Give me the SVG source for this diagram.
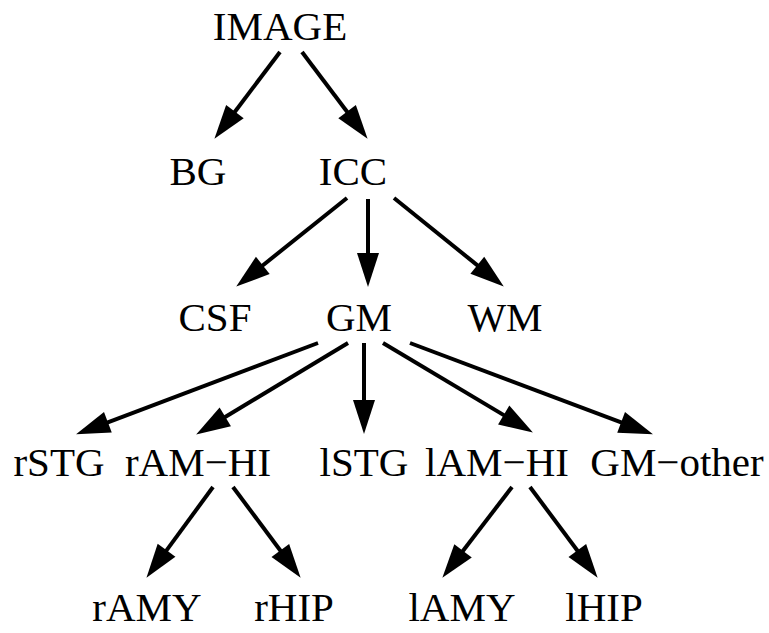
<svg xmlns="http://www.w3.org/2000/svg" width="769" height="633" viewBox="0 0 769 633">
<defs>
<marker id="ah" markerUnits="userSpaceOnUse" orient="auto" markerWidth="40" markerHeight="30" refX="0" refY="0" overflow="visible">
<path d="M-5,-11 L29,0 L-5,11 z" fill="#000"/>
</marker>
</defs>
<rect width="769" height="633" fill="#fff"/>
<g id="connectors" stroke="#000" stroke-width="4" fill="none" marker-end="url(#ah)">
<line x1="280" y1="52" x2="231.9" y2="115.7" marker-end="url(#ah)"/>
<line x1="302" y1="52" x2="350.1" y2="115.7" marker-end="url(#ah)"/>
<line x1="347" y1="198" x2="258.9" y2="268.5" marker-end="url(#ah)"/>
<line x1="368" y1="199" x2="368" y2="258" marker-end="url(#ah)"/>
<line x1="394" y1="198" x2="481.2" y2="268.4" marker-end="url(#ah)"/>
<line x1="318" y1="343" x2="103.2" y2="424.1" marker-end="url(#ah)"/>
<line x1="348" y1="343" x2="221" y2="419.5" marker-end="url(#ah)"/>
<line x1="364" y1="343" x2="364" y2="405" marker-end="url(#ah)"/>
<line x1="383" y1="343" x2="508" y2="417.6" marker-end="url(#ah)"/>
<line x1="410" y1="343" x2="625.8" y2="424.1" marker-end="url(#ah)"/>
<line x1="213" y1="487" x2="163.6" y2="554.4" marker-end="url(#ah)"/>
<line x1="233" y1="487" x2="283.3" y2="554.5" marker-end="url(#ah)"/>
<line x1="512" y1="487" x2="460" y2="554.8" marker-end="url(#ah)"/>
<line x1="530" y1="487" x2="580.3" y2="554.5" marker-end="url(#ah)"/>
</g>
<g id="IMAGE"><text x="280" y="40" font-family="Liberation Serif" font-size="41" text-anchor="middle">IMAGE</text></g>
<g id="BG"><text x="198" y="185" font-family="Liberation Serif" font-size="41" text-anchor="middle">BG</text></g>
<g id="ICC"><text x="353" y="185" font-family="Liberation Serif" font-size="41" text-anchor="middle">ICC</text></g>
<g id="CSF"><text x="215" y="331" font-family="Liberation Serif" font-size="41" text-anchor="middle">CSF</text></g>
<g id="GM"><text x="359" y="331" font-family="Liberation Serif" font-size="41" text-anchor="middle">GM</text></g>
<g id="WM"><text x="505" y="331" font-family="Liberation Serif" font-size="41" text-anchor="middle">WM</text></g>
<g id="rSTG"><text x="59" y="476" font-family="Liberation Serif" font-size="41" text-anchor="middle">rSTG</text></g>
<g id="rAM-HI"><text x="198" y="476" font-family="Liberation Serif" font-size="41" text-anchor="middle">rAM−HI</text></g>
<g id="lSTG"><text x="364" y="476" font-family="Liberation Serif" font-size="41" text-anchor="middle">lSTG</text></g>
<g id="lAM-HI"><text x="497" y="476" font-family="Liberation Serif" font-size="41" text-anchor="middle">lAM−HI</text></g>
<g id="GM-other"><text x="677" y="476" font-family="Liberation Serif" font-size="41" text-anchor="middle">GM−other</text></g>
<g id="rAMY"><text x="147" y="621" font-family="Liberation Serif" font-size="41" text-anchor="middle">rAMY</text></g>
<g id="rHIP"><text x="294" y="621" font-family="Liberation Serif" font-size="41" text-anchor="middle">rHIP</text></g>
<g id="lAMY"><text x="462" y="621" font-family="Liberation Serif" font-size="41" text-anchor="middle">lAMY</text></g>
<g id="lHIP"><text x="604" y="621" font-family="Liberation Serif" font-size="41" text-anchor="middle">lHIP</text></g>
</svg>
